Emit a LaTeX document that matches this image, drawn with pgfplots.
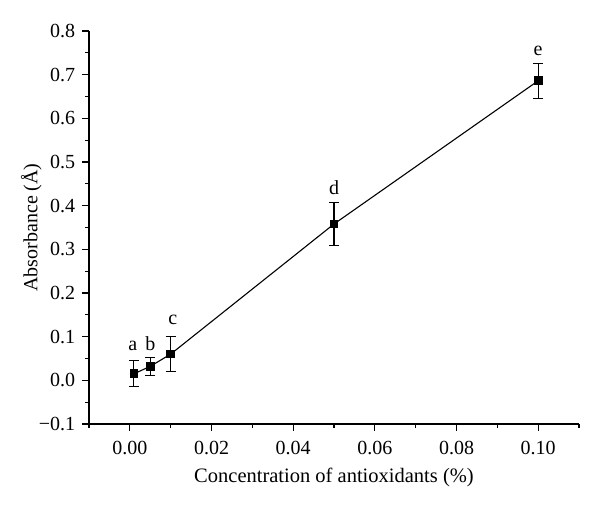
\documentclass[border=0pt]{standalone}
\usepackage{pgfplots}
\pgfplotsset{compat=1.18}
\usepackage{fontspec}
\setmainfont{Liberation Serif}
\begin{document}
\fontsize{20}{24}\selectfont
\begin{tikzpicture}
\useasboundingbox (0pt,0pt) rectangle (600pt,511pt);
\begin{axis}[
  at={(89pt,87pt)}, anchor=south west,
  scale only axis, width=490pt, height=393pt,
  xmin=-0.01, xmax=0.11, ymin=-0.1, ymax=0.8,
  axis lines=left, axis line style={-, line width=1.3pt},
  tick align=outside, major tick length=7pt, minor tick length=4pt,
  every tick/.style={black, line width=1.2pt},
  xtick={0,0.02,0.04,0.06,0.08,0.10},
  xticklabels={0.00,0.02,0.04,0.06,0.08,0.10},
  minor xtick={-0.01,0.01,0.03,0.05,0.07,0.09,0.11},
  ytick={-0.1,0,0.1,0.2,0.3,0.4,0.5,0.6,0.7,0.8},
  yticklabels={−0.1,0.0,0.1,0.2,0.3,0.4,0.5,0.6,0.7,0.8},
  minor ytick={-0.05,0.05,0.15,0.25,0.35,0.45,0.55,0.65,0.75},
  tick label style={font=\fontsize{20}{24}\selectfont},
  xticklabel style={yshift=-3pt},
  xlabel style={font=\fontsize{20.5}{24}\selectfont},
  ylabel style={font=\fontsize{20}{24}\selectfont,
    at={(axis description cs:-0.118,0.5)}, anchor=center},
  xlabel={Concentration of antioxidants (\%)},
  ylabel={Absorbance (Å)},
  clip=false,
]
\addplot[black, line width=1.1pt, mark=square*, mark size=3.8pt,
  mark options={solid, fill=black},
  error bars/.cd, y dir=both, y explicit,
  error bar style={line width=1.1pt, black},
  error mark options={rotate=90, mark size=5pt, line width=1.1pt, black}]
  table[x=x, y=y, y error=e] {
x y e
0.001 0.015 0.030
0.005 0.032 0.020
0.010 0.060 0.040
0.050 0.358 0.050
0.100 0.686 0.040
};
\node[anchor=base] at (axis cs:0.0007,0.069) {a};
\node[anchor=base] at (axis cs:0.0050,0.069) {b};
\node[anchor=base] at (axis cs:0.0105,0.129) {c};
\node[anchor=base] at (axis cs:0.0500,0.426) {d};
\node[anchor=base] at (axis cs:0.1000,0.743) {e};
\end{axis}
\end{tikzpicture}
\end{document}
